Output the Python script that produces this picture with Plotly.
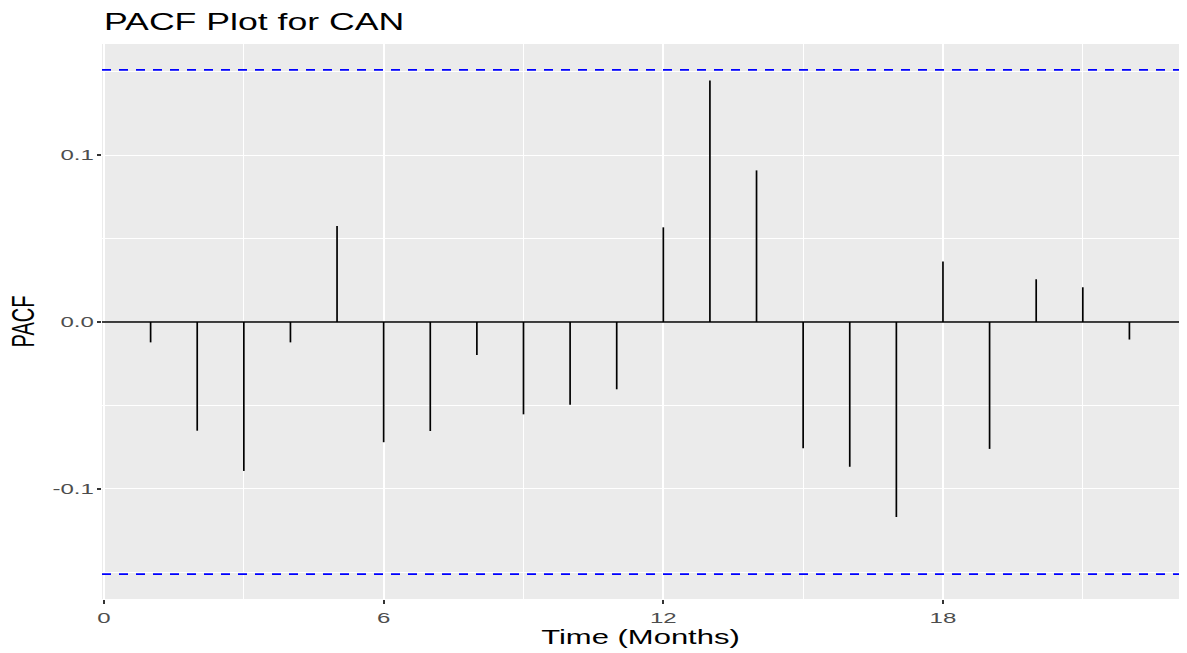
import plotly.graph_objects as go

# Partial autocorrelation by lag (months)
lags = list(range(1, 23))
pacf = [-0.0122, -0.0651, -0.0892, -0.0122, 0.0575, -0.0720, -0.0653, -0.0198,
        -0.0553, -0.0495, -0.0403, 0.0567, 0.1447, 0.0908, -0.0756, -0.0867,
        -0.1168, 0.0362, -0.0760, 0.0256, 0.0208, -0.0105]
ci_bound = 0.151  # approx. 1.96 / sqrt(n)

x_tickvals = [0, 6, 12, 18]
x_ticktext = ["0", "6", "12", "18"]
y_tickvals = [-0.1, 0.0, 0.1]
y_ticktext = ["-0.1", "0.0", "0.1"]

TEXT_FONT = "Liberation Sans, Arial, sans-serif"

# vertical stems from zero to each PACF value
stem_x, stem_y = [], []
for lag, v in zip(lags, pacf):
    stem_x += [lag, lag, None]
    stem_y += [0, v, None]

fig = go.Figure()
fig.add_trace(go.Scatter(x=stem_x, y=stem_y, mode="lines",
                         line=dict(color="black", width=1.7),
                         hoverinfo="skip", showlegend=False))

fig.add_hline(y=0, line=dict(color="black", width=1.6))
for b in (ci_bound, -ci_bound):
    fig.add_hline(y=b, line=dict(color="#0000FF", width=1.7, dash="9px,8px"))

fig.update_layout(
    width=1187, height=653,
    margin=dict(l=102, r=8, t=44, b=54),
    paper_bgcolor="white", plot_bgcolor="#EBEBEB",
    font=dict(family=TEXT_FONT),
    title=dict(text="PACF Plot for CAN", font=dict(size=23, color="black"),
               xref="container", x=104 / 1187, xanchor="left",
               yref="container", y=1 - 21.5 / 653, yanchor="middle"),
    showlegend=False,
)
fig.update_xaxes(
    range=[-0.043, 23.064], tickvals=x_tickvals, ticktext=x_ticktext,
    showgrid=True, gridcolor="white", gridwidth=1.5, zeroline=False,
    ticks="outside", ticklen=4, tickwidth=1.5, tickcolor="#333333",
    tickfont=dict(size=15.5, color="#4D4D4D"),
    minor=dict(tickvals=[3, 9, 15, 21], showgrid=True, gridcolor="white",
               gridwidth=0.8, ticks=""),
    title=dict(text="Time (Months)", font=dict(size=20, color="black"), standoff=4),
    showline=False, fixedrange=True,
)
fig.update_yaxes(
    range=[-0.1659, 0.1665], tickvals=y_tickvals, ticktext=y_ticktext,
    showgrid=True, gridcolor="white", gridwidth=1.3, zeroline=False,
    ticks="outside", ticklen=4, tickwidth=1.5, tickcolor="#333333",
    tickfont=dict(size=15.5, color="#4D4D4D"),
    minor=dict(tickvals=[-0.15, -0.05, 0.05, 0.15], showgrid=True,
               gridcolor="white", gridwidth=0.7, ticks=""),
    title=dict(text="PACF", font=dict(size=20, color="black"), standoff=27),
    showline=False, fixedrange=True,
)

# widen the text horizontally, as in the original device output;
# re-applied after every redraw since Plotly rebuilds tick labels
post = """
var gd = document.getElementById('{plot_id}');
var S = 1.55;
function stretch(sel, vert) {
  gd.querySelectorAll(sel).forEach(function (t) {
    var tr = t.getAttribute('transform') || '';
    if (tr.indexOf('scale(') !== -1) return;
    var x = parseFloat(t.getAttribute('x')) || 0;
    var y = parseFloat(t.getAttribute('y')) || 0;
    var sc = vert ? 'scale(1,' + S + ')' : 'scale(' + S + ',1)';
    t.setAttribute('transform', tr + ' translate(' + x + ',' + y + ') ' + sc +
                   ' translate(' + (-x) + ',' + (-y) + ')');
  });
}
function stretchAll() {
  stretch('text.gtitle', false);
  stretch('text.xtitle', false);
  stretch('text.ytitle', true);
  stretch('.xtick text', false);
  stretch('.ytick text', false);
}
stretchAll();
gd.on('plotly_afterplot', stretchAll);
setTimeout(stretchAll, 50);
setTimeout(stretchAll, 300);
"""

fig.write_html("out.html", config={"displayModeBar": False}, post_script=post)
